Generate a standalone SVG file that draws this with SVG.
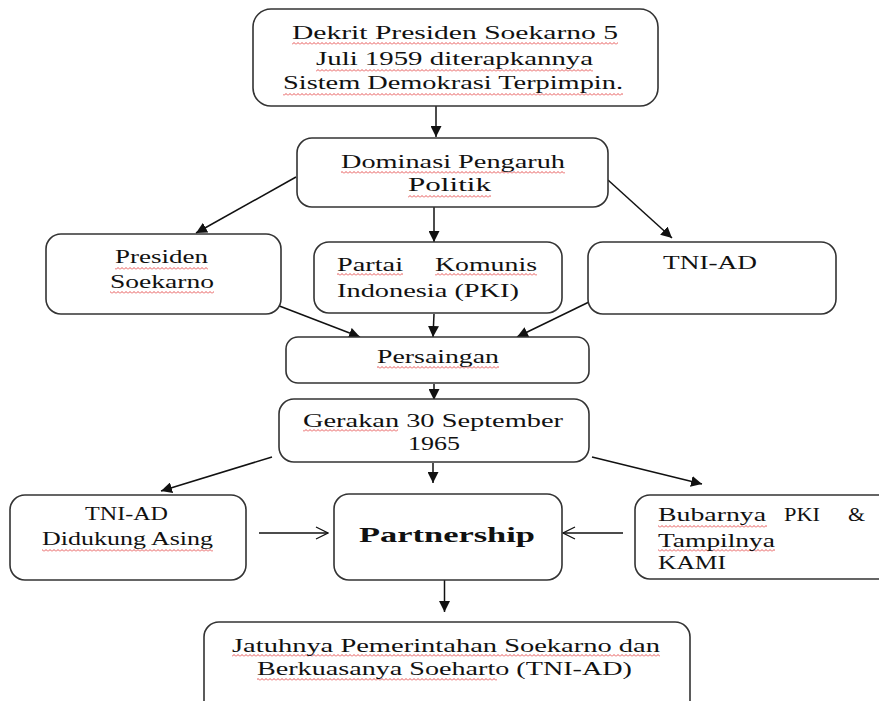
<svg xmlns="http://www.w3.org/2000/svg" width="879" height="701" viewBox="0 0 879 701">
<style>
.box{fill:#fff;stroke:#333;stroke-width:1.6}
.t{font-family:"Liberation Serif","Times New Roman",serif;font-size:19.5px;fill:#111}
.b{font-family:"Liberation Serif","Times New Roman",serif;font-size:22px;font-weight:bold;fill:#111}
.c{stroke:#111;stroke-width:1.5;fill:none}
.w{fill:url(#wv)}
</style>
<defs>
<pattern id="wv" width="4" height="3" patternUnits="userSpaceOnUse"><path d="M0,2.5 L2,0.5 L4,2.5" fill="none" stroke="#e02a2a" stroke-width="0.8"/></pattern>
<marker id="ah" viewBox="0 0 10 10" refX="10" refY="5" markerWidth="11" markerHeight="11" markerUnits="userSpaceOnUse" orient="auto"><path d="M0,0 L10,5 L0,10 z" fill="#111"/></marker>
<marker id="oa" viewBox="0 0 14 14" refX="13" refY="7" markerWidth="14" markerHeight="14" markerUnits="userSpaceOnUse" orient="auto"><path d="M1,1 L13,7 L1,13" fill="none" stroke="#111" stroke-width="1.3"/></marker>
</defs>
<rect width="879" height="701" fill="#fff"/>
<g id="connectors">
<line class="c" x1="436" y1="106" x2="436" y2="137" marker-end="url(#ah)"/>
<line class="c" x1="296" y1="177" x2="196" y2="233" marker-end="url(#ah)"/>
<line class="c" x1="434" y1="207" x2="434" y2="242" marker-end="url(#ah)"/>
<line class="c" x1="608" y1="180" x2="672" y2="238" marker-end="url(#ah)"/>
<line class="c" x1="269" y1="302" x2="360" y2="337" marker-end="url(#ah)"/>
<line class="c" x1="434" y1="314" x2="433" y2="337" marker-end="url(#ah)"/>
<line class="c" x1="589" y1="302" x2="517" y2="337" marker-end="url(#ah)"/>
<line class="c" x1="434" y1="384" x2="434" y2="400" marker-end="url(#ah)"/>
<line class="c" x1="272" y1="457" x2="161" y2="491" marker-end="url(#ah)"/>
<line class="c" x1="433" y1="463" x2="433" y2="483" marker-end="url(#ah)"/>
<line class="c" x1="592" y1="457" x2="702" y2="484" marker-end="url(#ah)"/>
<line class="c" x1="259" y1="533" x2="328" y2="533" marker-end="url(#oa)"/>
<line class="c" x1="623" y1="533" x2="563" y2="533" marker-end="url(#oa)"/>
<line class="c" x1="444.5" y1="580" x2="444.5" y2="612" marker-end="url(#ah)"/>
</g>
<g id="dekrit">
<rect class="box" x="253" y="9" width="405" height="97" rx="18"/>
<rect class="w" x="292" y="42" width="326" height="3"/>
<rect class="w" x="316" y="69" width="277" height="3"/>
<rect class="w" x="283" y="93" width="340" height="3"/>
<text class="t" x="292" y="39" textLength="326" lengthAdjust="spacingAndGlyphs">Dekrit Presiden Soekarno 5</text>
<text class="t" x="316" y="65" textLength="277" lengthAdjust="spacingAndGlyphs">Juli 1959 diterapkannya</text>
<text class="t" x="283" y="89" textLength="340" lengthAdjust="spacingAndGlyphs">Sistem Demokrasi Terpimpin.</text>
</g>
<g id="dominasi">
<rect class="box" x="297" y="138" width="311" height="69" rx="15"/>
<rect class="w" x="341" y="171" width="224" height="3"/>
<rect class="w" x="408" y="195" width="83" height="3"/>
<text class="t" x="341" y="168" textLength="224" lengthAdjust="spacingAndGlyphs">Dominasi Pengaruh</text>
<text class="t" x="408" y="191" textLength="83" lengthAdjust="spacingAndGlyphs">Politik</text>
</g>
<g id="presiden">
<rect class="box" x="46" y="234" width="235" height="80" rx="15"/>
<rect class="w" x="115" y="267" width="93" height="3"/>
<rect class="w" x="110" y="291" width="104" height="3"/>
<text class="t" x="115" y="263" textLength="93" lengthAdjust="spacingAndGlyphs">Presiden</text>
<text class="t" x="110" y="288" textLength="104" lengthAdjust="spacingAndGlyphs">Soekarno</text>
</g>
<g id="pki">
<rect class="box" x="314" y="242" width="248" height="71" rx="15"/>
<rect class="w" x="337" y="273" width="66" height="3"/>
<rect class="w" x="435" y="273" width="102" height="3"/>
<text class="t" x="337" y="271" textLength="66" lengthAdjust="spacingAndGlyphs">Partai</text>
<text class="t" x="435" y="271" textLength="102" lengthAdjust="spacingAndGlyphs">Komunis</text>
<text class="t" x="337" y="297" textLength="182" lengthAdjust="spacingAndGlyphs">Indonesia (PKI)</text>
</g>
<g id="tniad">
<rect class="box" x="588" y="242" width="248" height="72" rx="15"/>
<text class="t" x="663" y="269" textLength="94" lengthAdjust="spacingAndGlyphs">TNI-AD</text>
</g>
<g id="persaingan">
<rect class="box" x="286" y="337" width="303" height="46" rx="12"/>
<rect class="w" x="377" y="366" width="122" height="3"/>
<text class="t" x="377" y="363" textLength="122" lengthAdjust="spacingAndGlyphs">Persaingan</text>
</g>
<g id="gerakan">
<rect class="box" x="279" y="399" width="310" height="63" rx="15"/>
<rect class="w" x="303" y="429" width="95" height="3"/>
<text class="t" x="303" y="427" textLength="260" lengthAdjust="spacingAndGlyphs">Gerakan 30 September</text>
<text class="t" x="408" y="450" textLength="52" lengthAdjust="spacingAndGlyphs">1965</text>
</g>
<g id="tniad-asing">
<rect class="box" x="10" y="495" width="236" height="85" rx="15"/>
<rect class="w" x="42" y="549" width="171" height="3"/>
<text class="t" x="85" y="520" textLength="83" lengthAdjust="spacingAndGlyphs">TNI-AD</text>
<text class="t" x="42" y="545" textLength="171" lengthAdjust="spacingAndGlyphs">Didukung Asing</text>
</g>
<g id="partnership">
<rect class="box" x="334" y="494" width="228" height="86" rx="15"/>
<text class="b" x="359" y="542" textLength="176" lengthAdjust="spacingAndGlyphs">Partnership</text>
</g>
<g id="bubarnya">
<rect class="box" x="635" y="495" width="260" height="84" rx="15"/>
<rect class="w" x="658" y="525" width="109" height="3"/>
<rect class="w" x="658" y="549" width="117" height="3"/>
<text class="t" x="658" y="521" textLength="108" lengthAdjust="spacingAndGlyphs">Bubarnya</text>
<text class="t" x="784" y="521" textLength="36" lengthAdjust="spacingAndGlyphs">PKI</text>
<text class="t" x="848" y="521" textLength="17" lengthAdjust="spacingAndGlyphs">&amp;</text>
<text class="t" x="658" y="547" textLength="117" lengthAdjust="spacingAndGlyphs">Tampilnya</text>
<text class="t" x="658" y="569" textLength="68" lengthAdjust="spacingAndGlyphs">KAMI</text>
</g>
<g id="jatuhnya">
<rect class="box" x="204" y="622" width="486" height="100" rx="15"/>
<rect class="w" x="232" y="654" width="428" height="3"/>
<rect class="w" x="257" y="678" width="240" height="3"/>
<text class="t" x="232" y="652" textLength="428" lengthAdjust="spacingAndGlyphs">Jatuhnya Pemerintahan Soekarno dan</text>
<text class="t" x="257" y="675" textLength="375" lengthAdjust="spacingAndGlyphs">Berkuasanya  Soeharto (TNI-AD)</text>
</g>
</svg>
